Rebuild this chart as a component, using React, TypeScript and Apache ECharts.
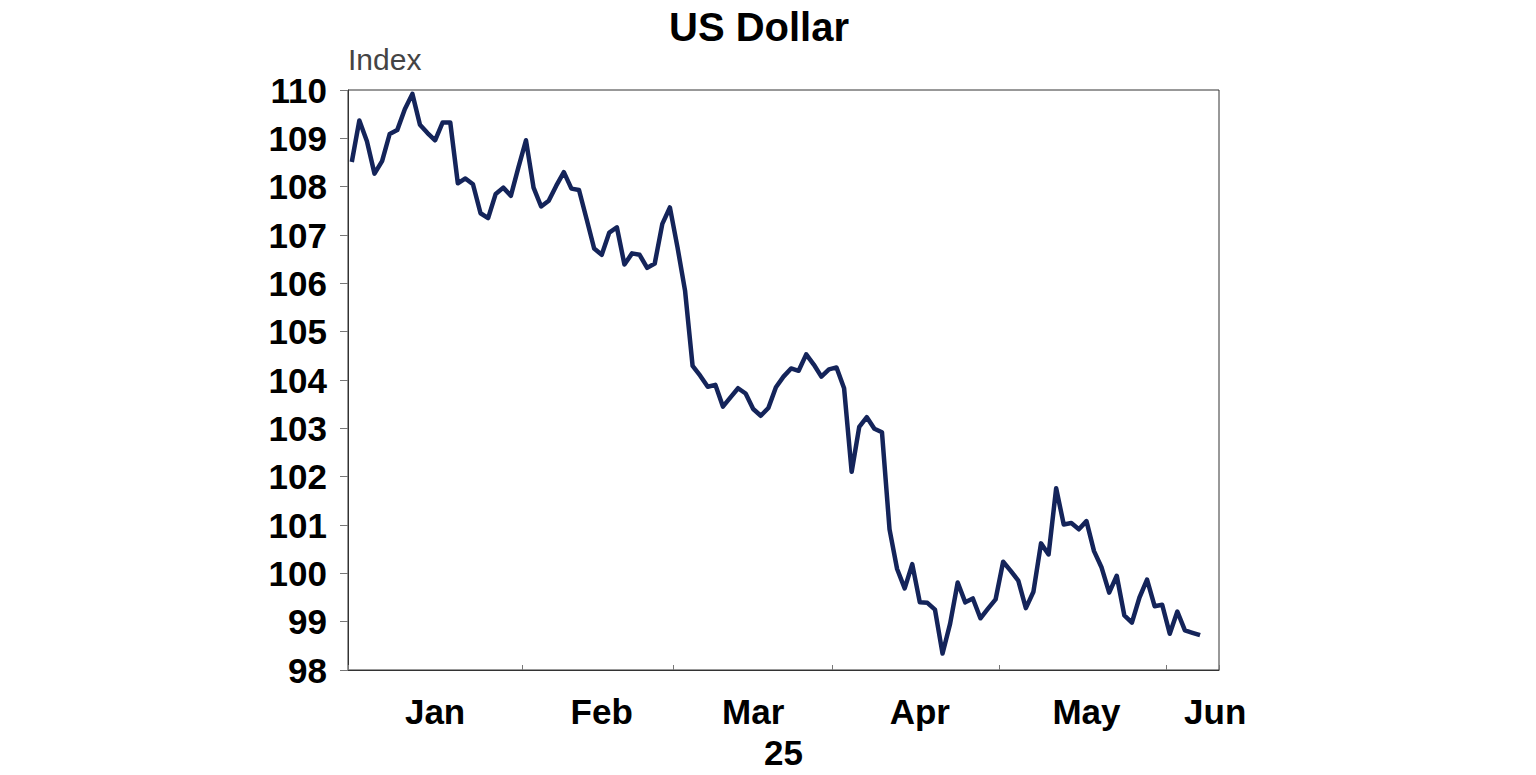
import React, { useEffect, useRef } from "react";
import * as echarts from "echarts";

// Daily (weekday) US Dollar index values, 2025
const janValues = [108.51, 109.37, 108.94, 108.27, 108.53, 109.09, 109.17, 109.6, 109.92, 109.28, 109.11, 108.96, 109.33, 109.33, 108.07, 108.17, 108.05, 107.45, 107.35, 107.85, 107.98, 107.81, 108.4];
const febValues = [108.96, 107.98, 107.59, 107.71, 108.02, 108.3, 107.96, 107.93, 107.33, 106.72, 106.59, 107.05, 107.16, 106.39, 106.62, 106.59, 106.32, 106.41, 107.23, 107.57];
const marValues = [106.75, 105.85, 104.29, 104.09, 103.86, 103.9, 103.45, 103.64, 103.83, 103.72, 103.4, 103.26, 103.42, 103.85, 104.07, 104.24, 104.19, 104.53, 104.32, 104.07, 104.22];
const aprValues = [104.26, 103.83, 102.1, 103.03, 103.23, 102.99, 102.92, 100.91, 100.09, 99.69, 100.19, 99.4, 99.39, 99.25, 98.34, 98.96, 99.81, 99.4, 99.48, 99.07, 99.27, 99.46];
const mayValues = [100.24, 100.05, 99.85, 99.28, 99.62, 100.62, 100.39, 101.76, 101.01, 101.04, 100.91, 101.08, 100.46, 100.12, 99.6, 99.95, 99.13, 98.98, 99.5, 99.87, 99.32, 99.35];
const junValues = [98.75, 99.21, 98.82, 98.77, 98.72];

const monthNames = ["Jan", "Feb", "Mar", "Apr", "May", "Jun"];
const yTicks = [98, 99, 100, 101, 102, 103, 104, 105, 106, 107, 108, 109, 110];
const axisStart = "2025-01-01";
const axisEnd = "2025-06-10";
const yearLabel = "25";

function buildWeekdays(start: string, end: string): string[] {
  const out: string[] = [];
  const d = new Date(start + "T00:00:00Z");
  const e = new Date(end + "T00:00:00Z");
  while (d.getTime() <= e.getTime()) {
    const wd = d.getUTCDay();
    if (wd !== 0 && wd !== 6) out.push(d.toISOString().slice(0, 10));
    d.setUTCDate(d.getUTCDate() + 1);
  }
  return out;
}

export default function App() {
  const ref = useRef<HTMLDivElement>(null);

  useEffect(() => {
    if (!ref.current) return;
    const chart = echarts.init(ref.current, undefined, { renderer: "svg" });

    const categories = buildWeekdays(axisStart, axisEnd);
    const values = [...janValues, ...febValues, ...marValues, ...aprValues, ...mayValues, ...junValues];

    const monthOf = (s: string) => parseInt(s.slice(5, 7), 10) - 1;
    const monthStarts: number[] = [];
    const monthRanges: Record<number, number[]> = {};
    categories.forEach((c, i) => {
      const m = monthOf(c);
      if (!monthRanges[m]) {
        monthRanges[m] = [i, i];
        monthStarts.push(i);
      } else monthRanges[m][1] = i;
    });
    const labelIdx: Record<number, string> = {};
    Object.keys(monthRanges).forEach((k) => {
      const m = Number(k);
      const [a, b] = monthRanges[m];
      let mid = Math.round((a + b) / 2);
      if (m === 5) mid = b;
      labelIdx[mid] = monthNames[m];
    });

    const font = "'Liberation Sans', Arial, sans-serif";

    chart.setOption({
      animation: false,
      title: {
        text: "US Dollar",
        left: 664,
        top: 2,
        textStyle: { fontFamily: font, fontSize: 40, fontWeight: "bold", color: "#000" },
      },
      grid: {
        left: 348,
        right: 317,
        top: 90,
        bottom: 97,
        show: true,
        borderColor: "#333",
        borderWidth: 1,
        backgroundColor: "transparent",
      },
      xAxis: {
        type: "category",
        data: categories,
        boundaryGap: true,
        name: yearLabel,
        nameLocation: "middle",
        nameGap: 65,
        nameTextStyle: { fontFamily: font, fontSize: 35, fontWeight: "bold", color: "#000" },
        axisLine: { show: true, lineStyle: { color: "#333", width: 1 } },
        axisTick: {
          show: true,
          inside: true,
          length: 5,
          interval: (i: number) => monthStarts.includes(i),
          lineStyle: { color: "#777" },
        },
        axisLabel: {
          show: true,
          interval: (i: number) => labelIdx[i] !== undefined,
          formatter: (_v: string, i: number) => labelIdx[i] || "",
          margin: 24,
          fontFamily: font,
          fontSize: 35,
          fontWeight: "bold",
          color: "#000",
          hideOverlap: false,
        },
        splitLine: { show: false },
      },
      yAxis: {
        type: "value",
        min: yTicks[0],
        max: yTicks[yTicks.length - 1],
        interval: 1,
        name: "Index",
        nameLocation: "end",
        nameGap: 16,
        nameTextStyle: {
          fontFamily: font,
          fontSize: 30,
          color: "#444",
          align: "left",
          verticalAlign: "bottom",
        },
        axisLine: { show: true, lineStyle: { color: "#333", width: 1 } },
        axisTick: { show: true, inside: false, length: 8, lineStyle: { color: "#777" } },
        axisLabel: {
          margin: 21,
          fontFamily: font,
          fontSize: 35,
          fontWeight: "bold",
          color: "#000",
        },
        splitLine: { show: false },
      },
      series: [
        {
          type: "line",
          data: values,
          showSymbol: false,
          symbol: "none",
          lineStyle: { color: "#14245a", width: 4.5, join: "round" },
          itemStyle: { color: "#14245a" },
        },
      ],
    });

    return () => chart.dispose();
  }, []);

  return (
    <div
      ref={ref}
      style={{ position: "fixed", left: 0, top: 0, width: 1536, height: 775, background: "#fff" }}
    />
  );
}
